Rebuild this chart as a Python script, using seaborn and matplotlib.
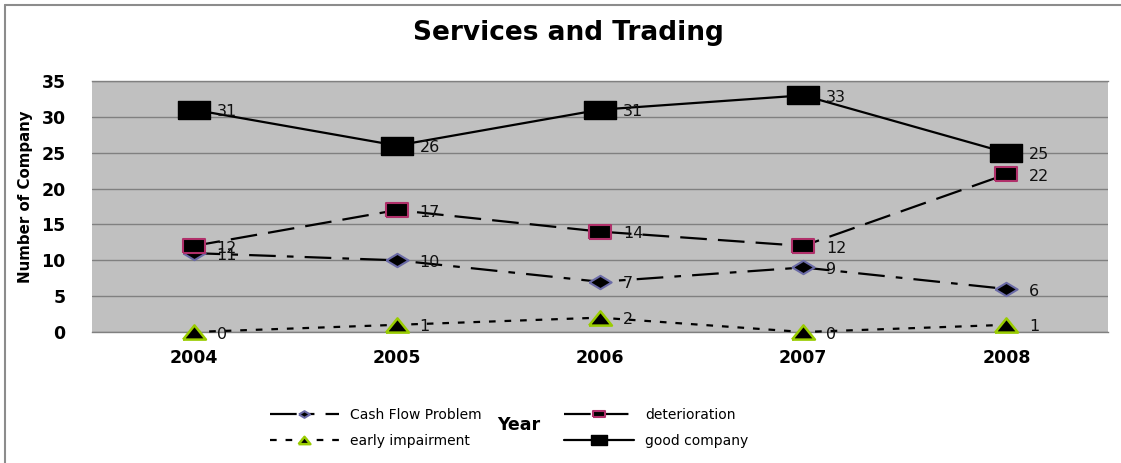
import matplotlib
matplotlib.use("Agg")
import matplotlib.pyplot as plt
from matplotlib.lines import Line2D
import seaborn as sns
import numpy as np

years = ["2004", "2005", "2006", "2007", "2008"]
cash_flow_problem = [11, 10, 7, 9, 6]
deterioration = [12, 17, 14, 12, 22]
early_impairment = [0, 1, 2, 0, 1]
good_company = [31, 26, 31, 33, 25]

sns.set_theme(style="white")
plt.rcParams["font.family"] = ["DejaVu Sans"]
plt.rcParams["text.color"] = "black"
plt.rcParams["xtick.color"] = "black"
plt.rcParams["ytick.color"] = "black"

W, H = 1121, 463
fig = plt.figure(figsize=(W / 100, H / 100), dpi=100)
ax = fig.add_axes([92 / W, 1 - 332 / H, (1108 - 92) / W, (332 - 81) / H])
ax.set_facecolor("#c0c0c0")

x = np.arange(len(years))

# wide rectangular / flattened marker shapes
rect_marker = [(-1.0, -0.6), (1.0, -0.6), (1.0, 0.6), (-1.0, 0.6), (-1.0, -0.6)]
diamond_marker = [(-1.0, 0), (0, -0.6), (1.0, 0), (0, 0.6), (-1.0, 0)]
tri_marker = [(-1.0, -0.62), (1.0, -0.62), (0, 0.62), (-1.0, -0.62)]

series = [
    dict(label="Cash Flow Problem", y=cash_flow_problem, ls=(0, (12, 5, 3, 5)),
         marker=diamond_marker, ms=16, mec="#6a6aa6", mew=1.5, lms=8),
    dict(label="early impairment", y=early_impairment, ls=(0, (3, 4)),
         marker=tri_marker, ms=16.5, mec="#99cc00", mew=1.8, lms=8.5),
    dict(label="deterioration", y=deterioration, ls=(0, (12, 5)),
         marker=rect_marker, ms=16, mec="#b0306a", mew=1.5, lms=8),
    dict(label="good company", y=good_company, ls="-",
         marker=rect_marker, ms=22.5, mec="black", mew=1.0, lms=12),
]

for s in series:
    sns.lineplot(x=x, y=s["y"], ax=ax, color="black", linewidth=1.6,
                 linestyle=s["ls"], marker=s["marker"], markersize=s["ms"],
                 markerfacecolor="black", markeredgecolor=s["mec"],
                 markeredgewidth=s["mew"], label=s["label"], clip_on=False,
                 zorder=3)
    for xi, yi in zip(x, s["y"]):
        ax.annotate(str(yi), (xi, yi), xytext=(16.5, -1.5),
                    textcoords="offset points", ha="left", va="center",
                    fontsize=11.5, color="#111111", zorder=4,
                    annotation_clip=False)

ax.set_xlim(-0.5, 4.5)
ax.set_ylim(0, 35)
ax.set_yticks(range(0, 36, 5))
ax.set_xticks(x)
ax.set_xticklabels(years)
ax.yaxis.grid(True, color="#808080", linewidth=1.0)
ax.xaxis.grid(False)
ax.set_axisbelow(True)
for side in ["left", "right"]:
    ax.spines[side].set_visible(False)
for side in ["top", "bottom"]:
    ax.spines[side].set_visible(True)
    ax.spines[side].set_color("#808080")
    ax.spines[side].set_linewidth(1.0)
ax.tick_params(axis="both", length=0, labelsize=12.5)
ax.tick_params(axis="y", pad=19)
ax.tick_params(axis="x", pad=12)
for lab in ax.get_xticklabels() + ax.get_yticklabels():
    lab.set_fontweight("bold")
ax.set_xlabel("")
ax.set_ylabel("")

fig.text(568 / W, 1 - 33 / H, "Services and Trading", ha="center",
         va="center", fontsize=19, fontweight="bold")
fig.text(26 / W, 1 - 197 / H, "Number of Company", rotation=90,
         ha="center", va="center", fontsize=10.8, fontweight="bold")
fig.text(519 / W, 1 - 425 / H, "Year", ha="center", va="center",
         fontsize=12.5, fontweight="bold")

handles, labels = ax.get_legend_handles_labels()
ax.get_legend().remove()
leg = fig.legend(handles, labels, ncol=2, loc="center left",
                 bbox_to_anchor=(257 / W, 1 - 428 / H), frameon=False,
                 fontsize=10, handlelength=5, columnspacing=5.95,
                 labelspacing=0.9, handletextpad=0.8)
# smaller marker glyphs in the legend keys only
for h, s in zip(leg.legend_handles, series):
    h.set_markersize(s["lms"])

# outer chart frame
fig.add_artist(Line2D([5 / W, 1], [1 - 5 / H, 1 - 5 / H], color="#8c8c8c",
                      linewidth=1.5, transform=fig.transFigure))
fig.add_artist(Line2D([5 / W, 5 / W], [0, 1 - 5 / H], color="#8c8c8c",
                      linewidth=1.5, transform=fig.transFigure))

fig.savefig("out.png", dpi=100, facecolor="white")
